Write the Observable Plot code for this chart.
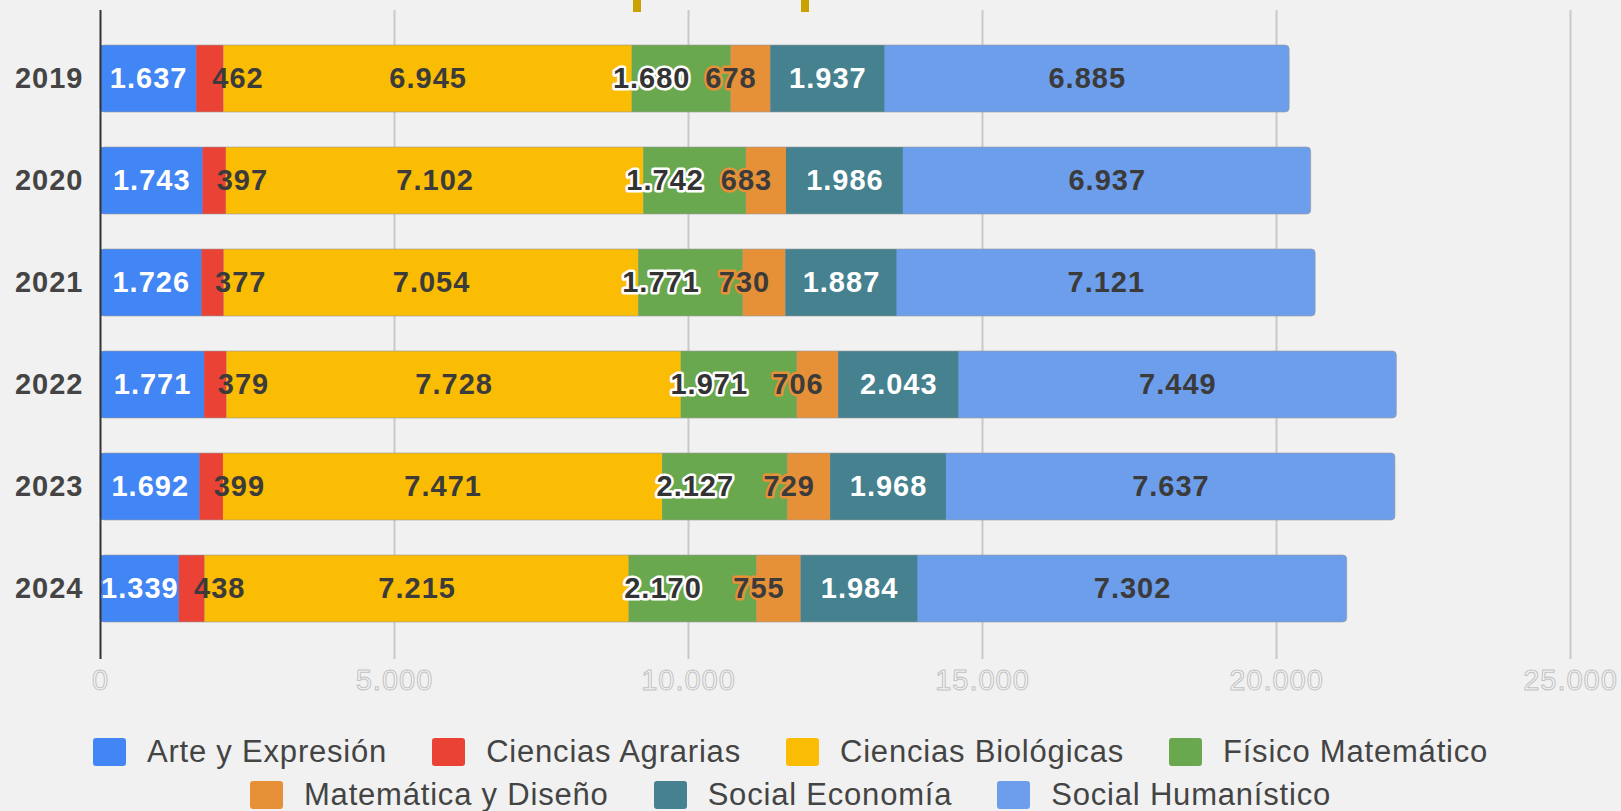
<!DOCTYPE html>
<html>
<head>
<meta charset="utf-8">
<script src="https://cdn.jsdelivr.net/npm/d3@7"></script>
<script src="https://cdn.jsdelivr.net/npm/@observablehq/plot@0.6"></script>
<style>
  html, body { margin: 0; padding: 0; background: #f1f1f1; }
  body { width: 1621px; height: 811px; position: relative; overflow: hidden; font-family: "Liberation Sans", Arial, sans-serif; }
  #chart { position: absolute; left: 0; top: 0; }
  #chart svg text { letter-spacing: 1px; }
  .mark { position: absolute; top: 0; width: 8px; height: 12px; background: #c9a200; }
  #legend { position: absolute; left: 0; top: 730px; width: 1581px; }
  .row { display: flex; justify-content: center; align-items: center; height: 43px; gap: 45px; }
  .item { display: flex; align-items: center; }
  .sw { width: 33px; height: 28px; border-radius: 3px; margin-right: 21px; }
  .lab { font-size: 31px; color: #444; letter-spacing: 0.8px; white-space: nowrap; }
</style>
</head>
<body>
<div class="mark" style="left:633px"></div>
<div class="mark" style="left:801px"></div>
<div id="chart"></div>
<div id="legend"></div>
<script>
const years = ["2019", "2020", "2021", "2022", "2023", "2024"];
const categories = ["Arte y Expresión", "Ciencias Agrarias", "Ciencias Biológicas", "Físico Matemático", "Matemática y Diseño", "Social Economía", "Social Humanístico"];
const colors = ["#4285f4", "#ea4335", "#fbbc04", "#6aa84f", "#e69138", "#45818e", "#6d9eeb"];
const arteExpresion = [1637, 1743, 1726, 1771, 1692, 1339];
const cienciasAgrarias = [462, 397, 377, 379, 399, 438];
const cienciasBiologicas = [6945, 7102, 7054, 7728, 7471, 7215];
const fisicoMatematico = [1680, 1742, 1771, 1971, 2127, 2170];
const matematicaDiseno = [678, 683, 730, 706, 729, 755];
const socialEconomia = [1937, 1986, 1887, 2043, 1968, 1984];
const socialHumanistico = [6885, 6937, 7121, 7449, 7637, 7302];
const xTicks = [0, 5000, 10000, 15000, 20000, 25000];

const series = [arteExpresion, cienciasAgrarias, cienciasBiologicas, fisicoMatematico, matematicaDiseno, socialEconomia, socialHumanistico];

const fmt = d3.formatLocale({decimal: ",", thousands: ".", grouping: [3], currency: ["", ""]}).format(",d");

const rows = [];
years.forEach((year, i) => {
  let cum = 0;
  series.forEach((s, j) => {
    const v = s[i];
    rows.push({year, category: categories[j], idx: j, value: v, x1: cum, x2: cum + v});
    cum += v;
  });
});
const totals = years.map((year, i) => ({year, total: d3.sum(series, s => s[i])}));

const dark = "#3b3b3b";
const labelStyles = [
  {fill: "white", stroke: colors[0], strokeWidth: 3},
  {fill: dark, textAnchor: "start", dx: 2},
  {fill: dark},
  {fill: "#333", stroke: "white", strokeWidth: 5, dx: -30},
  {fill: dark, stroke: colors[4], strokeWidth: 5, dx: -20},
  {fill: "white"},
  {fill: dark}
];

const labelMarks = labelStyles.map((st, j) =>
  Plot.text(rows.filter(d => d.idx === j), {
    y: "year",
    x: d => (d.x1 + d.x2) / 2,
    text: d => fmt(d.value),
    fontSize: 29,
    fontWeight: 700,
    paintOrder: "stroke",
    strokeLinejoin: "round",
    ...st
  })
);

const chart = Plot.plot({
  width: 1621,
  height: 720,
  marginLeft: 100,
  marginRight: 51,
  marginTop: 10,
  marginBottom: 61,
  style: {fontFamily: "'Liberation Sans', Arial, sans-serif", background: "transparent", overflow: "visible"},
  x: {domain: [0, 25000], axis: null},
  y: {domain: years, range: [27.5, 639.5], paddingInner: 0.343, paddingOuter: 0.1715, axis: null},
  color: {domain: categories, range: colors},
  marks: [
    Plot.ruleX(xTicks.filter(d => d > 0), {x: d => d, stroke: "#c9c9c9", strokeWidth: 2}),
    Plot.barX(totals, {y: "year", x1: d => 0, x2: "total", fill: colors[6], rx: 4}),
    Plot.barX(rows.filter(d => d.idx < 6), {y: "year", x1: "x1", x2: "x2", fill: "category"}),
    Plot.barX(totals, {y: "year", x1: d => 0, x2: "total", fill: "none", stroke: "#999", strokeOpacity: 0.6, rx: 4}),
    Plot.ruleX([0], {x: d => d, stroke: "#333", strokeWidth: 2}),
    ...labelMarks,
    Plot.text(years, {y: d => d, frameAnchor: "left", textAnchor: "end", dx: -17, fontSize: 29, fontWeight: 700, fill: "#444"}),
    Plot.text(xTicks, {x: d => d, frameAnchor: "bottom", dy: 30, text: d => fmt(d), fontSize: 29, fill: "#f6f6f6", stroke: "#c2c2c2", strokeWidth: 1, paintOrder: "normal"})
  ]
});
document.getElementById("chart").appendChild(chart);

// Legend
const legend = document.getElementById("legend");
const legendRows = [categories.slice(0, 4), categories.slice(4)];
legendRows.forEach(r => {
  const row = document.createElement("div");
  row.className = "row";
  r.forEach(cat => {
    const it = document.createElement("div");
    it.className = "item";
    const sw = document.createElement("div");
    sw.className = "sw";
    sw.style.background = colors[categories.indexOf(cat)];
    const lab = document.createElement("span");
    lab.className = "lab";
    lab.textContent = cat;
    it.appendChild(sw);
    it.appendChild(lab);
    row.appendChild(it);
  });
  legend.appendChild(row);
});
</script>
</body>
</html>
